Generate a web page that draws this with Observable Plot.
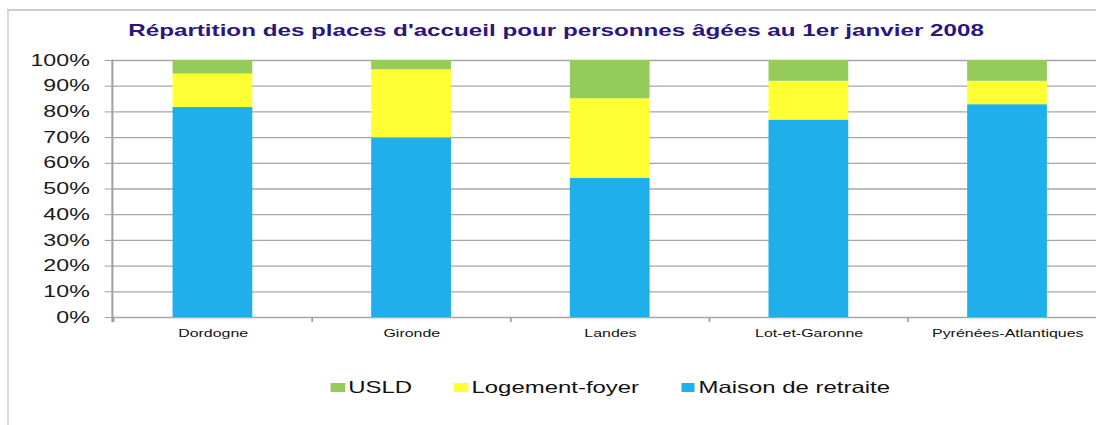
<!DOCTYPE html>
<html><head><meta charset="utf-8">
<script src="https://cdn.jsdelivr.net/npm/d3@7"></script>
<script src="https://cdn.jsdelivr.net/npm/@observablehq/plot@0.6"></script>
<style>
html,body{margin:0;padding:0;background:#fff;overflow:hidden}
#chart{position:relative;width:756px;height:425px;transform:scaleX(1.45);transform-origin:0 0;overflow:hidden;font-family:"Liberation Sans",Arial,sans-serif}
#frame{position:absolute;left:5px;top:9px;right:-20px;bottom:-20px;border-left:1.4px solid #cdcdcd;border-top:2px solid #cdcdcd}
#title{position:absolute;left:0;width:767px;top:22.8px;text-align:center;font-weight:bold;font-size:16.7px;line-height:16.7px;color:#2d1580;white-space:nowrap}
#plot{position:absolute;left:0;top:0}
#legend{position:absolute;left:0;width:842px;top:379px;display:flex;justify-content:center;font-size:16.5px;line-height:16.5px;color:#111;white-space:nowrap}
.item{display:flex;align-items:flex-start;margin:0 14.5px}
.sw{width:9.5px;height:9.5px;margin-top:3.5px;margin-right:2.5px}
</style></head><body>
<div id="chart"><div id="frame"></div><div id="plot"></div><div id="title"></div><div id="legend"></div></div>
<script>
const title = "Répartition des places d'accueil pour personnes âgées au 1er janvier 2008";
const categories = ["Dordogne", "Gironde", "Landes", "Lot-et-Garonne", "Pyrénées-Atlantiques"];
const maison = [81.7, 69.9, 54.2, 76.8, 82.8];
const logement = [13.0, 26.5, 30.9, 15.1, 9.1];
const usld = [5.3, 3.6, 14.9, 8.1, 8.1];
const series = ["Maison de retraite", "Logement-foyer", "USLD"];
const colors = ["#1fb0ec", "#ffff33", "#94cb5a"];
const legendOrder = ["USLD", "Logement-foyer", "Maison de retraite"];
const yTicks = [0, 10, 20, 30, 40, 50, 60, 70, 80, 90, 100];

const values = [maison, logement, usld];
const table = series.flatMap((s, i) => categories.map((c, j) => ({dept: c, type: s, value: values[i][j]})));

const width = 764, mL = 77, mR = 0;
const padIn = 0.6, padOut = 0.3;
const step = (width - mL - mR) / (categories.length - padIn + 2 * padOut);

const plot = Plot.plot({
  width, height: 345, marginLeft: mL, marginRight: mR, marginTop: 60, marginBottom: 28,
  style: {background: "transparent", maxWidth: "none", overflow: "visible", fontFamily: "Liberation Sans, Arial, sans-serif"},
  x: {domain: categories, paddingInner: padIn, paddingOuter: padOut, axis: null},
  y: {domain: [0, 100], axis: null},
  color: {domain: series, range: colors},
  marks: [
    Plot.ruleY(yTicks, {stroke: "#a6a6a6", strokeWidth: 1.3}),
    Plot.barY(table, Plot.stackY({x: "dept", y: "value", fill: "type", order: series})),
    Plot.ruleX(categories, {x: d => d, dx: -step / 2, y1: 0, y2: 0, insetBottom: -5, stroke: "#a0a0a0", strokeWidth: 1.2}),
    Plot.frame({anchor: "left", stroke: "#a0a0a0", strokeWidth: 1.4, insetBottom: -4}),
    Plot.axisY({ticks: yTicks, tickFormat: d => d + "%", tickSize: 4.8, tickPadding: 10.8, fontSize: 16, stroke: "#a0a0a0", fill: "#1a1a1a", label: null}),
    Plot.axisX({tickSize: 0, tickPadding: 12, fontSize: 11, fill: "#111", label: null})
  ]
});
document.getElementById("plot").appendChild(plot);
document.getElementById("title").textContent = title;

const lg = d3.select("#legend");
legendOrder.forEach(s => {
  const it = lg.append("div").attr("class", "item");
  it.append("div").attr("class", "sw").style("background", colors[series.indexOf(s)]);
  it.append("span").text(s);
});
</script>
</body></html>
